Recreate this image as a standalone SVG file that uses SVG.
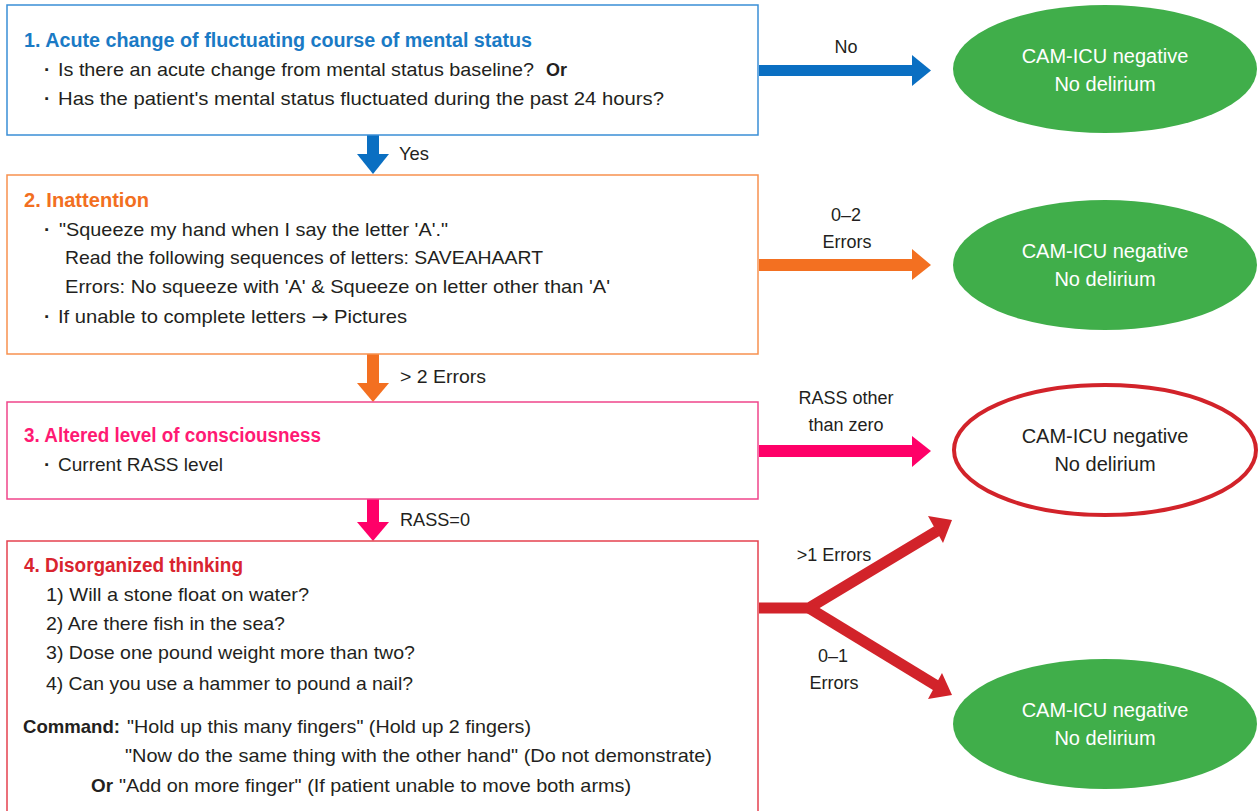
<svg xmlns="http://www.w3.org/2000/svg" width="1260" height="811" viewBox="0 0 1260 811">
<style>
text{font-family:"Liberation Sans","Noto Sans",Arial,sans-serif;fill:#231f20}
.t{font-size:20px;font-weight:bold}
.b{font-size:19px}
.dot{font-size:19px;font-weight:bold}
.bb{font-size:19px;font-weight:bold}
.lbl{font-size:18px;text-anchor:middle}
.el{font-size:20px;text-anchor:middle}
.box{fill:#ffffff;stroke-width:1.5}
.green{fill:#40ae4a}
</style>
<rect width="1260" height="811" fill="#ffffff"/>

<g id="connectors">
  <g fill="#0a6fc2">
    <rect x="367" y="135" width="12" height="20"/>
    <polygon points="357,154 389,154 373,174"/>
  </g>
  <g fill="#f37021">
    <rect x="367" y="354" width="12" height="30"/>
    <polygon points="357,383 389,383 373,402"/>
  </g>
  <g fill="#ff0068">
    <rect x="367" y="499" width="12" height="24"/>
    <polygon points="357,522 389,522 373,541"/>
  </g>
  <g fill="#0a6fc2">
    <rect x="759" y="65" width="155" height="11"/>
    <polygon points="912,55 931,70.5 912,86"/>
  </g>
  <g fill="#f37021">
    <rect x="759" y="259" width="155" height="12"/>
    <polygon points="912,249 931,265 912,280"/>
  </g>
  <g fill="#ff0068">
    <rect x="759" y="445" width="155" height="12"/>
    <polygon points="912,436 931,451 912,467"/>
  </g>
  <g fill="none" stroke="#d2232a" stroke-width="11" stroke-linejoin="miter">
    <polyline points="759,608 809,608 937,531"/>
    <polyline points="809,608 937,686"/>
  </g>
  <g fill="#d2232a">
    <polygon points="928,516 952,520 943,543"/>
    <polygon points="928,699 952,695 942,673"/>
  </g>
  <text class="b" x="399" y="160" textLength="30" lengthAdjust="spacingAndGlyphs">Yes</text>
  <text class="b" x="400" y="383" textLength="86" lengthAdjust="spacingAndGlyphs">&gt; 2 Errors</text>
  <text class="b" x="400" y="526" textLength="70" lengthAdjust="spacingAndGlyphs">RASS=0</text>
  <text class="lbl" x="846" y="53">No</text>
  <text class="lbl" x="846" y="221">0–2</text>
  <text class="lbl" x="847" y="248">Errors</text>
  <text class="lbl" x="846" y="404">RASS other</text>
  <text class="lbl" x="846" y="431">than zero</text>
  <text class="lbl" x="834" y="561">&gt;1 Errors</text>
  <text class="lbl" x="833" y="662">0–1</text>
  <text class="lbl" x="834" y="689">Errors</text>
</g>

<g id="node1">
  <rect class="box" x="7" y="5" width="751" height="130" stroke="#3a8ed6"/>
  <text class="t" x="24" y="47" style="fill:#1a7ac5" textLength="508" lengthAdjust="spacingAndGlyphs">1. Acute change of fluctuating course of mental status</text>
  <text class="dot" x="44" y="76">·</text>
  <text class="b" x="58" y="76" textLength="476" lengthAdjust="spacingAndGlyphs">Is there an acute change from mental status baseline?</text>
  <text class="bb" x="546" y="76" textLength="21" lengthAdjust="spacingAndGlyphs">Or</text>
  <text class="dot" x="44" y="105">·</text>
  <text class="b" x="58" y="105" textLength="606" lengthAdjust="spacingAndGlyphs">Has the patient's mental status fluctuated during the past 24 hours?</text>
</g>

<g id="node2">
  <rect class="box" x="7" y="175" width="751" height="179" stroke="#f7914f"/>
  <text class="t" x="24" y="207" style="fill:#f26f21" textLength="125" lengthAdjust="spacingAndGlyphs">2. Inattention</text>
  <text class="dot" x="44" y="236">·</text>
  <text class="b" x="59" y="236" textLength="389" lengthAdjust="spacingAndGlyphs">"Squeeze my hand when I say the letter 'A'."</text>
  <text class="b" x="65" y="264" textLength="478" lengthAdjust="spacingAndGlyphs">Read the following sequences of letters: SAVEAHAART</text>
  <text class="b" x="65" y="293" textLength="545" lengthAdjust="spacingAndGlyphs">Errors: No squeeze with 'A' &amp; Squeeze on letter other than 'A'</text>
  <text class="dot" x="44" y="323">·</text>
  <text class="b" x="58" y="323" textLength="349" lengthAdjust="spacingAndGlyphs">If unable to complete letters <tspan style="font-family:'DejaVu Sans',sans-serif">→</tspan> Pictures</text>
</g>

<g id="node3">
  <rect class="box" x="7" y="402" width="751" height="97" stroke="#f0458b"/>
  <text class="t" x="24" y="442" style="fill:#ff1a73" textLength="297" lengthAdjust="spacingAndGlyphs">3. Altered level of consciousness</text>
  <text class="dot" x="44" y="471">·</text>
  <text class="b" x="58" y="471" textLength="165" lengthAdjust="spacingAndGlyphs">Current RASS level</text>
</g>

<g id="node4">
  <rect class="box" x="7" y="541" width="751" height="290" stroke="#e5414f"/>
  <text class="t" x="24" y="572" style="fill:#d9242f" textLength="219" lengthAdjust="spacingAndGlyphs">4. Disorganized thinking</text>
  <text class="b" x="46" y="601" textLength="263" lengthAdjust="spacingAndGlyphs">1) Will a stone float on water?</text>
  <text class="b" x="46" y="630" textLength="239" lengthAdjust="spacingAndGlyphs">2) Are there fish in the sea?</text>
  <text class="b" x="46" y="659" textLength="369" lengthAdjust="spacingAndGlyphs">3) Dose one pound weight more than two?</text>
  <text class="b" x="46" y="690" textLength="367" lengthAdjust="spacingAndGlyphs">4) Can you use a hammer to pound a nail?</text>
  <text class="bb" x="23" y="733" textLength="97" lengthAdjust="spacingAndGlyphs">Command:</text>
  <text class="b" x="127" y="733" textLength="404" lengthAdjust="spacingAndGlyphs">"Hold up this many fingers" (Hold up 2 fingers)</text>
  <text class="b" x="125" y="762" textLength="587" lengthAdjust="spacingAndGlyphs">"Now do the same thing with the other hand" (Do not demonstrate)</text>
  <text class="bb" x="91" y="792" textLength="22" lengthAdjust="spacingAndGlyphs">Or</text>
  <text class="b" x="119" y="792" textLength="512" lengthAdjust="spacingAndGlyphs">"Add on more finger" (If patient unable to move both arms)</text>
</g>

<g id="result1">
  <ellipse class="green" cx="1105" cy="69" rx="152" ry="64"/>
  <text class="el" x="1105" y="63" style="fill:#ffffff">CAM-ICU negative</text>
  <text class="el" x="1105" y="91" style="fill:#ffffff">No delirium</text>
</g>
<g id="result2">
  <ellipse class="green" cx="1105" cy="265" rx="152" ry="65"/>
  <text class="el" x="1105" y="258" style="fill:#ffffff">CAM-ICU negative</text>
  <text class="el" x="1105" y="286" style="fill:#ffffff">No delirium</text>
</g>
<g id="result3">
  <ellipse cx="1105" cy="450" rx="151" ry="65" fill="#ffffff" stroke="#d2232a" stroke-width="4"/>
  <text class="el" x="1105" y="443">CAM-ICU negative</text>
  <text class="el" x="1105" y="471">No delirium</text>
</g>
<g id="result4">
  <ellipse class="green" cx="1105" cy="724" rx="152" ry="65"/>
  <text class="el" x="1105" y="717" style="fill:#ffffff">CAM-ICU negative</text>
  <text class="el" x="1105" y="745" style="fill:#ffffff">No delirium</text>
</g>
</svg>
